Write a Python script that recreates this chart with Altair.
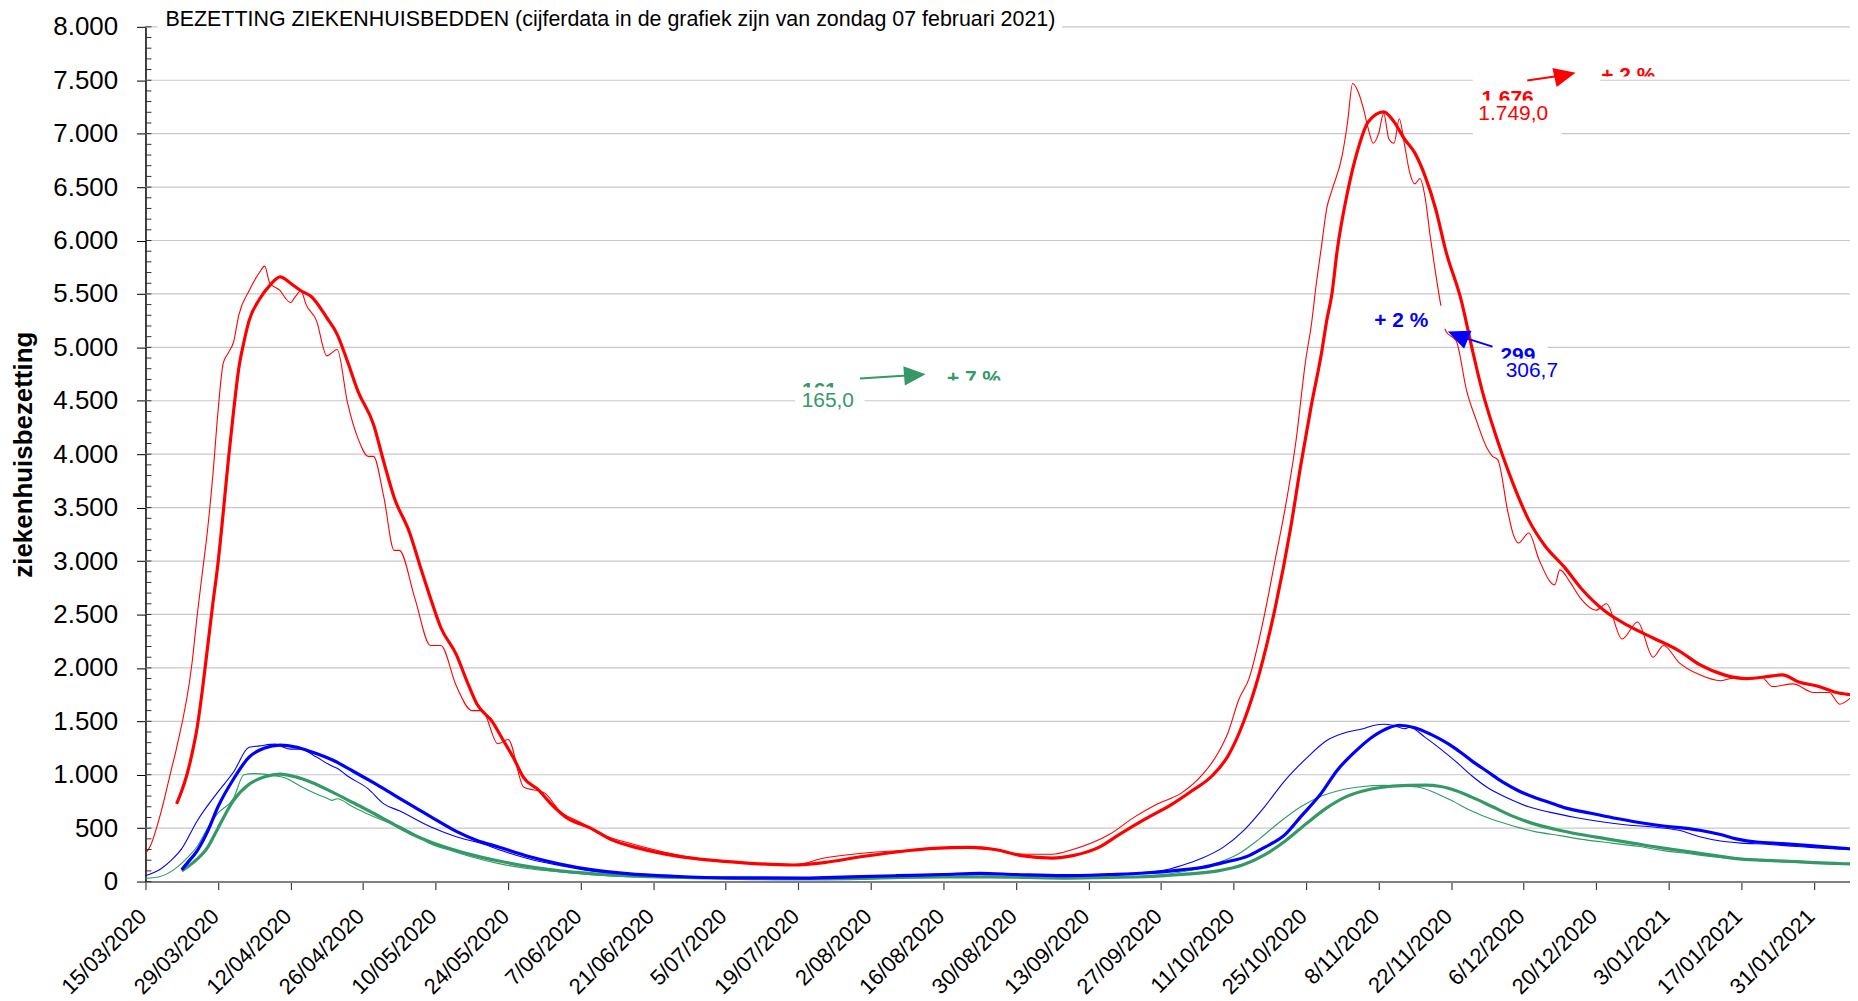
import altair as alt
import pandas as pd

# Day index = number of days since 15/03/2020 (x axis runs to 07/02/2021 = day 329)
RED_DAILY = [(0, 260), (1, 340), (3, 650), (5, 1050), (6, 1250), (9, 2050), (10, 2500), (11, 2900), (12, 3300),
             (13, 3800), (14, 4400), (15, 4850), (16, 4950), (17, 5050), (18, 5300), (20, 5530), (22, 5700),
             (23, 5760), (24, 5600), (26, 5530), (27, 5460), (28, 5420), (29, 5480), (30, 5530), (31, 5400),
             (33, 5250), (35, 4920), (37, 4980), (39, 4480), (41, 4150), (43, 3980), (44, 3980), (46, 3600),
             (48, 3100), (49, 3100), (52, 2650), (55, 2210), (57, 2210), (60, 1830), (63, 1600), (65, 1600),
             (68, 1290), (70, 1330), (73, 885), (77, 830), (80, 660), (84, 553), (88, 442), (93, 365), (100, 277),
             (109, 200), (118, 166), (125, 155), (131, 220), (141, 277), (150, 300), (156, 320), (163, 300),
             (170, 255), (175, 255), (179, 300), (186, 440), (191, 608), (195, 720), (200, 830), (204, 1000),
             (207, 1200), (209, 1400), (211, 1700), (213, 1900), (216, 2500), (218, 3000), (220, 3500),
             (222, 4100), (224, 4900), (225, 5200), (226, 5600), (227, 5950), (228, 6300), (229, 6470),
             (231, 6800), (232, 7100), (233, 7470), (234, 7400), (235, 7250), (236, 7050), (237, 6910),
             (238, 7000), (239, 7190), (240, 6950), (241, 6910), (242, 7140), (243, 6900), (244, 6640),
             (245, 6530), (246, 6580), (247, 6400), (248, 6030), (249, 5700), (250, 5400), (251, 5150),
             (253, 5060), (255, 4595), (257, 4300), (259, 4050), (260, 3980), (261, 3950), (263, 3450),
             (264, 3250), (265, 3169), (267, 3262), (269, 3010), (272, 2777), (273, 2917), (275, 2800),
             (277, 2650), (280, 2540), (282, 2600), (285, 2270), (288, 2430), (291, 2100), (293, 2210),
             (296, 2050), (300, 1935), (304, 1880), (307, 1910), (312, 1910), (314, 1825), (318, 1850),
             (322, 1770), (325, 1770), (327, 1660), (329, 1715)]

RED_AVG = [(6, 727), (7, 850), (8, 1000), (9, 1200), (10, 1450), (11, 1800), (12, 2200), (13, 2600), (14, 2980),
           (15, 3450), (16, 3950), (17, 4400), (18, 4800), (19, 5050), (20, 5250), (22, 5450), (24, 5580),
           (26, 5660), (28, 5600), (30, 5530), (32, 5476), (35, 5277), (37, 5122), (39, 4867), (41, 4591),
           (44, 4281), (46, 3927), (48, 3595), (51, 3263), (53, 2954), (55, 2655), (57, 2378), (60, 2124),
           (62, 1881), (64, 1659), (67, 1493), (69, 1327), (71, 1161), (73, 973), (76, 852), (78, 741),
           (81, 608), (86, 498), (90, 390), (95, 315), (102, 243), (109, 200), (115, 177), (125, 155),
           (131, 177), (138, 232), (145, 277), (152, 310), (159, 320), (164, 300), (169, 243), (175, 220),
           (179, 243), (184, 320), (188, 442), (193, 586), (198, 720), (202, 850), (206, 995), (209, 1180),
           (212, 1500), (215, 1950), (218, 2550), (221, 3300), (223, 3900), (225, 4450), (227, 4950),
           (228, 5250), (229, 5500), (230, 5900), (232, 6450), (234, 6850), (236, 7110), (239, 7204),
           (241, 7110), (243, 6950), (245, 6820), (247, 6600), (249, 6300), (251, 5900), (254, 5433),
           (256, 5000), (258, 4595), (260, 4270), (262, 3980), (264, 3720), (267, 3383), (270, 3150),
           (274, 2936), (277, 2750), (282, 2520), (286, 2400), (291, 2280), (296, 2160), (300, 2030),
           (305, 1930), (309, 1900), (314, 1925), (316, 1935), (319, 1870), (323, 1825), (326, 1775),
           (329, 1749)]

BLUE_DAILY = [(0, 55), (3, 120), (5, 200), (7, 308), (10, 570), (14, 840), (17, 1025), (20, 1258), (22, 1270),
              (25, 1286), (26, 1270), (28, 1240), (30, 1240), (33, 1165), (36, 1081), (37, 1060), (39, 988),
              (43, 867), (46, 727), (49, 662), (55, 513), (60, 420), (65, 354), (70, 270), (75, 200), (80, 150),
              (86, 100), (93, 70), (100, 50), (113, 35), (127, 35), (141, 50), (154, 70), (163, 75), (172, 60),
              (182, 60), (191, 80), (196, 100), (200, 150), (204, 220), (208, 320), (212, 480), (216, 700),
              (220, 950), (224, 1150), (228, 1320), (232, 1400), (235, 1430), (237, 1460), (239, 1473),
              (241, 1460), (243, 1430), (244, 1445), (247, 1350), (250, 1240), (253, 1120), (256, 990),
              (259, 880), (263, 780), (267, 700), (271, 650), (276, 600), (281, 560), (286, 530), (291, 510),
              (296, 480), (300, 420), (304, 380), (308, 360), (313, 350), (318, 330), (323, 315), (329, 299)]

BLUE_AVG = [(7, 110), (8, 170), (10, 290), (12, 470), (14, 700), (17, 960), (20, 1165), (23, 1250), (26, 1277),
            (29, 1260), (32, 1215), (36, 1140), (40, 1035), (44, 925), (48, 810), (52, 695), (56, 580),
            (60, 470), (64, 385), (68, 326), (74, 235), (80, 165), (86, 112), (93, 75), (102, 50), (113, 35),
            (127, 33), (136, 44), (145, 55), (154, 66), (161, 77), (168, 66), (177, 55), (186, 66), (193, 80),
            (200, 110), (204, 133), (208, 177), (213, 243), (216, 320), (220, 442), (223, 608), (227, 830),
            (230, 1040), (234, 1240), (237, 1360), (240, 1440), (242, 1463), (245, 1440), (248, 1380),
            (250, 1330), (253, 1240), (256, 1130), (259, 1030), (262, 930), (265, 850), (268, 790), (271, 740),
            (274, 690), (279, 640), (284, 590), (288, 555), (293, 520), (297, 500), (300, 480), (304, 440),
            (307, 400), (311, 370), (316, 355), (323, 330), (329, 307)]

GREEN_DAILY = [(0, 30), (3, 50), (6, 130), (8, 220), (10, 330), (12, 500), (14, 640), (17, 780), (19, 1000),
               (21, 1010), (23, 1006), (25, 990), (27, 970), (30, 890), (33, 820), (35, 780), (36, 760),
               (37, 775), (40, 700), (43, 630), (46, 570), (49, 520), (52, 440), (55, 354), (59, 290),
               (63, 230), (68, 170), (74, 120), (80, 90), (86, 65), (97, 40), (113, 30), (131, 28), (145, 40),
               (159, 45), (172, 35), (186, 40), (195, 60), (200, 90), (206, 160), (211, 260), (215, 400),
               (219, 560), (223, 700), (227, 800), (231, 860), (235, 890), (239, 900), (243, 895), (246, 880),
               (249, 830), (252, 760), (256, 660), (260, 580), (264, 520), (268, 470), (273, 430), (278, 390),
               (283, 360), (288, 330), (293, 290), (298, 260), (303, 230), (307, 210), (312, 195), (318, 182),
               (324, 168), (329, 161)]

GREEN_AVG = [(7, 100), (9, 170), (12, 320), (14, 500), (17, 760), (20, 910), (23, 980), (26, 1006), (29, 980),
             (32, 930), (36, 839), (40, 740), (43, 665), (47, 560), (51, 455), (55, 370), (59, 305), (63, 250),
             (68, 195), (74, 140), (80, 100), (86, 75), (95, 50), (109, 35), (127, 25), (141, 33), (154, 44),
             (163, 44), (177, 33), (186, 40), (193, 45), (200, 66), (207, 100), (212, 160), (216, 250),
             (220, 380), (224, 540), (228, 690), (232, 800), (236, 860), (240, 890), (244, 900), (247, 902),
             (250, 890), (253, 850), (256, 790), (260, 700), (264, 610), (268, 540), (272, 490), (277, 440),
             (282, 400), (287, 360), (292, 320), (297, 285), (302, 250), (307, 215), (312, 200), (317, 190),
             (322, 178), (326, 170), (329, 165)]

TITLE = "BEZETTING ZIEKENHUISBEDDEN (cijferdata in de grafiek zijn van zondag 07 februari 2021)"
Y_TITLE = "ziekenhuisbezetting"

RED, BLUE, GREEN = "#ff0000", "#0000ff", "#339966"

# annotation labels: (text, day, value, colour)
BOLD_UNDER = [("+ 2 %", 286.2, 7487, RED), ("+ 7 %", 159.9, 4643, GREEN)]
BOLD_LABELS_RED = [("1.676", 262.9, 7268, RED)]
NORMAL_RED = [("1.749,0", 264.0, 7124, RED)]
BOLD_BLUE_A = [("+ 2 %", 242.4, 5187, BLUE)]
BOLD_BLUE_B = [("299", 264.9, 4861, BLUE)]
NORMAL_BLUE = [("306,7", 267.6, 4721, BLUE)]
BOLD_GREEN = [("161", 130.1, 4534, GREEN)]
NORMAL_GREEN = [("165,0", 131.7, 4441, GREEN)]
# arrows: (day from, value from, day to, value to, head angle, colour)
ARROWS = [(266.7, 7497, 274.0, 7548, 347.3, RED),
          (260.0, 5007, 253.3, 5110, 202.4, BLUE),
          (137.9, 4709, 148.5, 4741, 355.6, GREEN)]
# white label boxes: (day1, day2, value1, value2)
MASKS_UNDER = [(279.6, 293.1, 7534, 7375), (153.7, 166.2, 4690, 4550)]
TITLE_BOX = [(2.3, 176.9, 8233, 7963)]
RED_BOX1 = [(256.2, 280.8, 7524, 7319)]
RED_BOX2 = [(256.2, 273.3, 7310, 6965)]
BLUE_BOX1 = [(236.3, 251.2, 5389, 5175)]
BLUE_BOX2 = [(260.0, 270.6, 5063, 4895)]
BLUE_BOX3 = [(261.3, 273.8, 4895, 4643)]
GREEN_BOX = [(125.4, 138.8, 4625, 4364)]

FONT = "Liberation Sans"
XS = alt.Scale(domain=[0, 329], nice=False, zero=False)
YS = alt.Scale(domain=[0, 8000], nice=False)

x_axis = alt.Axis(values=list(range(0, 329, 14)),
                  labelExpr="timeFormat(datetime(2020, 2, 15 + datum.value), '%-d/%m/%Y')",
                  labelAngle=-45, labelAlign="right", labelBaseline="middle", labelPadding=23,
                  labelOffset=-3, labelFontSize=22, labelFont=FONT, labelColor="black", labelOverlap=False,
                  labelFlush=False, grid=False, domainColor="#808080", domainWidth=2,
                  tickColor="#404040", tickSize=8, tickWidth=1.2, title=None)
y_axis = alt.Axis(values=list(range(0, 8001, 500)),
                  labelExpr="replace(format(datum.value, ','), ',', '.')",
                  labelFontSize=26, labelFont=FONT, labelColor="black", labelPadding=19,
                  tickSize=9, tickColor="black", domainColor="black", domainWidth=1.5, grid=False,
                  title=Y_TITLE, titleFont=FONT, titleFontSize=26, titleFontWeight="bold",
                  titleColor="black", titleAngle=270, titleAlign="center", titleBaseline="middle",
                  titleX=-122, titleY=429)

X = alt.X("day:Q", scale=XS, axis=x_axis)
Y = alt.Y("value:Q", scale=YS, axis=y_axis)


def line(pairs, color, width):
    df = pd.DataFrame(pairs, columns=["day", "value"])
    return alt.Chart(df).mark_line(color=color, strokeWidth=width, interpolate="monotone").encode(x=X, y=Y)


def boxes(rows):
    df = pd.DataFrame(rows, columns=["day", "day2", "value", "value2"])
    return alt.Chart(df).mark_rect(color="white", opacity=1).encode(x=X, x2="day2:Q", y=Y, y2="value2:Q")


def texts(rows, bold, size=21, align="center"):
    df = pd.DataFrame(rows, columns=["text", "day", "value", "color"])
    return alt.Chart(df).mark_text(font=FONT, fontSize=size, fontWeight="bold" if bold else "normal",
                                   align=align, baseline="alphabetic").encode(
        x=X, y=Y, text="text:N", color=alt.Color("color:N", scale=None))


def arrows(rows):
    df = pd.DataFrame(rows, columns=["day", "value", "day2", "value2", "angle", "color"])
    shaft = alt.Chart(df).mark_rule(strokeWidth=2).encode(
        x=X, y=Y, x2="day2:Q", y2="value2:Q", color=alt.Color("color:N", scale=None))
    head = alt.Chart(df).mark_point(shape="M-1,-0.9L1,0L-1,0.9Z", filled=True, size=470, opacity=1).encode(
        x=alt.X("day2:Q", scale=XS, axis=x_axis), y=alt.Y("value2:Q", scale=YS, axis=y_axis),
        angle=alt.Angle("angle:Q", scale=None), color=alt.Color("color:N", scale=None))
    return [shaft, head]


grid = alt.Chart(pd.DataFrame({"value": list(range(500, 8001, 500))})).mark_rule(
    color="#c8c8c8", strokeWidth=1.2).encode(y=Y)
minor = alt.Chart(pd.DataFrame({"value": list(range(0, 8001, 100))})).mark_rule(
    color="#303030", strokeWidth=1).encode(x=alt.value(0), x2=alt.value(6), y=Y)
title = texts([(TITLE, 3.85, 8009, "black")], False, size=21.5, align="left")

layers = [
    texts(BOLD_UNDER, True), boxes(MASKS_UNDER), grid,
    line(RED_DAILY, RED, 1.1), line(BLUE_DAILY, BLUE, 1.1), line(GREEN_DAILY, GREEN, 1.1),
    line(GREEN_AVG, GREEN, 3.2), line(BLUE_AVG, BLUE, 3.2), line(RED_AVG, RED, 3.2),
    boxes(TITLE_BOX), title,
    boxes(RED_BOX1), texts(BOLD_LABELS_RED, True), boxes(RED_BOX2), texts(NORMAL_RED, False),
    boxes(BLUE_BOX1), texts(BOLD_BLUE_A, True), boxes(BLUE_BOX2), texts(BOLD_BLUE_B, True),
    boxes(BLUE_BOX3), texts(NORMAL_BLUE, False),
    texts(BOLD_GREEN, True), boxes(GREEN_BOX), texts(NORMAL_GREEN, False),
    *arrows(ARROWS),
    minor,
]

chart = alt.layer(*layers).properties(
    width=1711, height=858,
    autosize=alt.AutoSizeParams(type="none"),
    padding={"left": 138, "top": 17, "right": 0, "bottom": 118},
).configure_view(stroke="transparent")

chart.save("out.html", embed_options={"renderer": "svg", "actions": False})
